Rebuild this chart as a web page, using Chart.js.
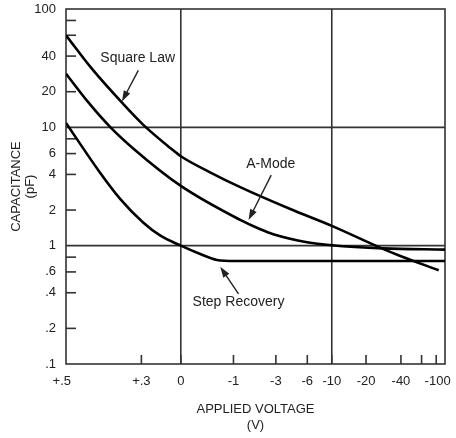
<!DOCTYPE html>
<html>
<head>
<meta charset="utf-8">
<script src="https://cdn.jsdelivr.net/npm/chart.js@4.4.1/dist/chart.umd.min.js"></script>
<style>
  html, body { margin: 0; padding: 0; background: #fff; }
  #wrap { width: 456px; height: 438px; }
</style>
</head>
<body>
<div id="wrap"><canvas id="chartCap"></canvas></div>
<script>
// curves: applied voltage (V) -> capacitance (pF)
var squareLawV = [0.5, 0.46, 0.38, 0.29, 0.1, 0, -0.43, -1.2, -4.15, -10, -28, -40, -84];
var squareLawC = [60, 31, 16, 10.5, 6.65, 5.7, 4.17, 3.14, 2.04, 1.47, 0.94, 0.815, 0.62];

var aModeV = [0.5, 0.468, 0.42, 0.337, 0, -1.22, -2.07, -2.82, -5.97, -10, -28, -95];
var aModeC = [28.4, 16.4, 10.2, 6.6, 3.2, 1.65, 1.375, 1.25, 1.07, 1.008, 0.948, 0.926];

var stepV = [0.5, 0.444, 0.388, 0.291, 0.186, 0, -0.257, -0.57, -1.05, -95];
var stepC = [10.9, 4.16, 2.49, 1.57, 1.22, 1.0, 0.85, 0.757, 0.743, 0.743];

// axes
var xStartV = 0.5, xEndV = -95;
var xLabelVolts = [0.5, 0.3, 0, -1, -3, -6, -10, -20, -40, -100];
var xLabels = ['+.5', '+.3', '0', '-1', '-3', '-6', '-10', '-20', '-40', '-100'];
var xTickVolts = [0.3, 0, -1, -3, -6, -10, -20, -40, -60, -80];
var xGridVolts = [0, -10];

var yLabelVals = [0.1, 0.2, 0.4, 0.6, 1, 2, 4, 6, 10, 20, 40, 100];
var yLabels = ['.1', '.2', '.4', '.6', '1', '2', '4', '6', '10', '20', '40', '100'];
var yTickVals = [0.2, 0.4, 0.6, 0.8, 2, 4, 6, 8, 20, 40, 60, 80];
var yGridVals = [1, 10];

// callouts: label position, arrow tail, arrow tip (V, pF)
var noteText = ['Square Law', 'A-Mode', 'Step Recovery'];
var noteAt = [[0.318, 38.8], [-2.66, 4.88], [-1.16, 0.334]];
var noteFrom = [[0.315, 30.3], [-2.69, 3.95], [-1.16, 0.391]];
var noteTo = [[0.382, 16.5], [-1.53, 1.645], [-0.645, 0.664]];

// the voltage axis is logarithmic in (phi - V)
var PHI = 0.56;
function u(v) { return Math.log10(PHI - v); }
function pts(vs, cs) {
  return vs.map(function (v, i) { return { x: u(v), y: cs[i] }; });
}

var FONT = "'Liberation Sans', Arial, sans-serif";
var INK = '#222';
var GRID = '#333';

function arrow(ctx, x1, y1, x2, y2) {
  var ang = Math.atan2(y2 - y1, x2 - x1), L = 11, W = 3.6;
  var c = Math.cos(ang), s = Math.sin(ang);
  ctx.beginPath();
  ctx.moveTo(x1, y1);
  ctx.lineTo(x2 - L * 0.7 * c, y2 - L * 0.7 * s);
  ctx.stroke();
  ctx.beginPath();
  ctx.moveTo(x2, y2);
  ctx.lineTo(x2 - L * c + W * s, y2 - L * s - W * c);
  ctx.lineTo(x2 - L * c - W * s, y2 - L * s + W * c);
  ctx.closePath();
  ctx.fill();
}

var framePlugin = {
  id: 'frame',
  beforeDatasetsDraw: function (chart) {
    var ctx = chart.ctx, a = chart.chartArea;
    var xs = chart.scales.x, ys = chart.scales.y;
    ctx.save();
    ctx.strokeStyle = GRID;
    ctx.lineWidth = 1.6;
    ctx.lineCap = 'butt';
    xGridVolts.forEach(function (v) {
      var px = xs.getPixelForValue(u(v));
      ctx.beginPath(); ctx.moveTo(px, a.top); ctx.lineTo(px, a.bottom); ctx.stroke();
    });
    yGridVals.forEach(function (c) {
      var py = ys.getPixelForValue(c);
      ctx.beginPath(); ctx.moveTo(a.left, py); ctx.lineTo(a.right, py); ctx.stroke();
    });
    // inward tick marks
    xTickVolts.forEach(function (v) {
      var px = xs.getPixelForValue(u(v));
      ctx.beginPath(); ctx.moveTo(px, a.bottom); ctx.lineTo(px, a.bottom - 9); ctx.stroke();
    });
    yTickVals.forEach(function (c) {
      var py = ys.getPixelForValue(c);
      ctx.beginPath(); ctx.moveTo(a.left, py); ctx.lineTo(a.left + 10, py); ctx.stroke();
    });
    ctx.strokeRect(a.left, a.top, a.right - a.left, a.bottom - a.top);
    ctx.restore();
  },
  afterDraw: function (chart) {
    var ctx = chart.ctx, a = chart.chartArea;
    var xs = chart.scales.x, ys = chart.scales.y;
    ctx.save();
    ctx.fillStyle = INK;
    ctx.font = '13px ' + FONT;
    ctx.textBaseline = 'middle';

    // voltage labels
    xLabels.forEach(function (t, i) {
      var px = xs.getPixelForValue(u(xLabelVolts[i]));
      var last = i === xLabels.length - 1;
      if (i === 0 || last) {
        ctx.textAlign = 'right';
        px = i === 0 ? px + 5 : px + 3;
      } else {
        ctx.textAlign = 'center';
      }
      ctx.fillText(t, px, a.bottom + 17);
    });

    // axis titles
    var cx = (a.left + a.right) / 2;
    ctx.textAlign = 'center';
    ctx.fillText('APPLIED VOLTAGE', cx, a.bottom + 45);
    ctx.fillText('(V)', cx, a.bottom + 61);

    var cy = (a.top + a.bottom) / 2;
    ctx.save();
    ctx.translate(16, cy);
    ctx.rotate(-Math.PI / 2);
    ctx.fillText('CAPACITANCE', 0, 0);
    ctx.fillText('(pF)', 0, 14);
    ctx.restore();

    // callouts
    ctx.font = '14px ' + FONT;
    ctx.strokeStyle = INK;
    ctx.lineWidth = 1.4;
    noteText.forEach(function (t, i) {
      ctx.fillText(t, xs.getPixelForValue(u(noteAt[i][0])), ys.getPixelForValue(noteAt[i][1]));
      arrow(ctx,
        xs.getPixelForValue(u(noteFrom[i][0])), ys.getPixelForValue(noteFrom[i][1]),
        xs.getPixelForValue(u(noteTo[i][0])), ys.getPixelForValue(noteTo[i][1]));
    });
    ctx.restore();
  }
};

function curve(label, vs, cs) {
  return {
    label: label,
    data: pts(vs, cs),
    borderColor: '#000',
    borderWidth: 2.6,
    pointRadius: 0,
    fill: false,
    cubicInterpolationMode: 'monotone'
  };
}

var chartCap = document.getElementById('chartCap');
if (chartCap) {
  var myChart = new Chart(chartCap, {
    type: 'line',
    data: {
      datasets: [
        curve('Square Law', squareLawV, squareLawC),
        curve('A-Mode', aModeV, aModeC),
        curve('Step Recovery', stepV, stepC)
      ]
    },
    plugins: [framePlugin],
    options: {
      animation: false,
      responsive: true,
      maintainAspectRatio: false,
      layout: { padding: { top: 9, right: 11, left: 0, bottom: 0 } },
      plugins: {
        legend: { display: false },
        tooltip: { enabled: false }
      },
      scales: {
        x: {
          type: 'linear',
          min: u(xStartV),
          max: u(xEndV),
          grid: { display: false, drawTicks: false },
          border: { display: false },
          ticks: { display: false },
          afterFit: function (scale) { scale.height = 74; }
        },
        y: {
          type: 'logarithmic',
          min: 0.1,
          max: 100,
          grid: { display: false, drawTicks: false },
          border: { display: false },
          afterBuildTicks: function (scale) {
            scale.ticks = yLabelVals.map(function (v) { return { value: v }; });
          },
          ticks: {
            autoSkip: false,
            padding: 10,
            color: INK,
            font: { family: FONT, size: 13 },
            callback: function (val, index) { return yLabels[index]; }
          },
          afterFit: function (scale) {
            scale.width = 66;
            scale.paddingTop = 0;
            scale.paddingBottom = 0;
          }
        }
      }
    }
  });
}
</script>
</body>
</html>
